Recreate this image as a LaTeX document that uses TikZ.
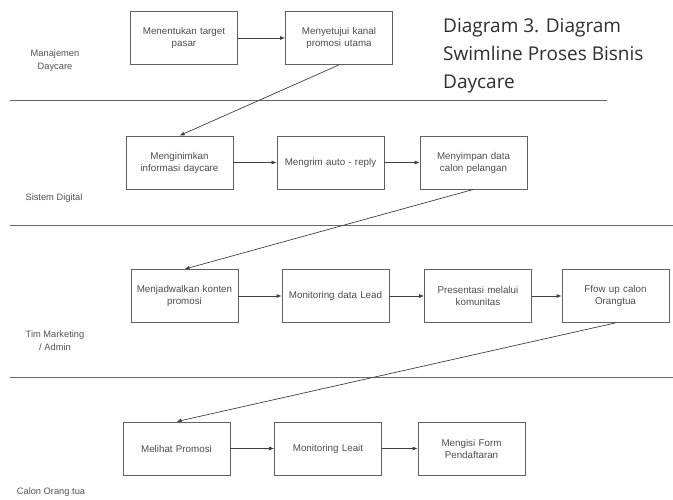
\documentclass[tikz,border=0pt]{standalone}
\usepackage{fontspec}
\setmainfont{Liberation Sans}
\newfontfamily\titlefont{Open Sans}
\usetikzlibrary{arrows.meta,positioning}
\begin{document}
\begin{tikzpicture}[x=1pt,y=-1pt,
  proc/.style={draw=black!62, line width=0.8pt, minimum width=107pt, minimum height=53pt,
    text width=104pt, align=center, inner sep=1pt, font=\fontsize{9.8}{12}\selectfont, text=black!70},
  lanelbl/.style={align=center, font=\fontsize{9.3}{13}\selectfont, text=black!68},
  titleline/.style={anchor=base west, inner sep=0pt, font=\titlefont\fontsize{19}{28}\selectfont, text=black!82},
  lane/.style={draw=black!60, line width=1pt},
  flow/.style={draw=black!75, line width=0.7pt, -{Latex[length=5pt,width=4pt]}},
]
\useasboundingbox (0,0) rectangle (673,499);
% lane lines
\coordinate (l1a) at (10,100); \coordinate (l1b) at (607,100);
\coordinate (l2a) at (10,225); \coordinate (l2b) at (673,225);
\coordinate (l3a) at (10,377); \coordinate (l3b) at (673,377);
\draw[lane] (l1a) -- (l1b);
\draw[lane] (l2a) -- (l2b);
\draw[lane] (l3a) -- (l3b);
% title
\node[titleline] (title1) at (443,32) {Diagram 3. Diagram};
\node[titleline] (title2) at (443,60) {Swimline Proses Bisnis};
\node[titleline] (title3) at (443,88) {Daycare};
% lane labels
\node[lanelbl] (lab1) at (55,61) {Manajemen\\Daycare};
\node[lanelbl] (lab2) at (54,198) {Sistem Digital};
\node[lanelbl] (lab3) at (55,341) {Tim Marketing\\/ Admin};
\node[lanelbl] (lab4) at (51,492) {Calon Orang tua};
% lane 1
\node[proc] (m1) at (184,38) {Menentukan target\\pasar};
\node[proc] (m2) at (339,38) {Menyetujui kanal\\promosi utama};
% lane 2
\node[proc] (s1) at (179.5,162.5) {Menginimkan\\informasi daycare};
\node[proc] (s2) at (330.5,162.5) {Mengrim auto - reply};
\node[proc] (s3) at (473.5,162.5) {Menyimpan data\\calon pelangan};
% lane 3
\node[proc] (t1) at (184.5,296) {Menjadwalkan konten\\promosi};
\node[proc] (t2) at (335.5,296) {Monitoring data Lead};
\node[proc] (t3) at (478,296) {Presentasi melalui\\komunitas};
\node[proc] (t4) at (615.5,296) {Ffow up calon\\Orangtua};
% lane 4
\node[proc] (c1) at (176.5,448.5) {Melihat Promosi};
\node[proc] (c2) at (328,448.5) {Monitoring Leait};
\node[proc] (c3) at (471.5,448.5) {Mengisi Form\\Pendaftaran};
% connectors
\draw[flow] (m1) -- (m2);
\draw[flow] (m2.south) -- (s1.north);
\draw[flow] (s1) -- (s2);
\draw[flow] (s2) -- (s3);
\draw[flow] (s3.south) -- (t1.north);
\draw[flow] (t1) -- (t2);
\draw[flow] (t2) -- (t3);
\draw[flow] (t3) -- (t4);
\draw[flow] (t4.south) -- (c1.north);
\draw[flow] (c1) -- (c2);
\draw[flow] (c2) -- (c3);
\end{tikzpicture}
\end{document}
